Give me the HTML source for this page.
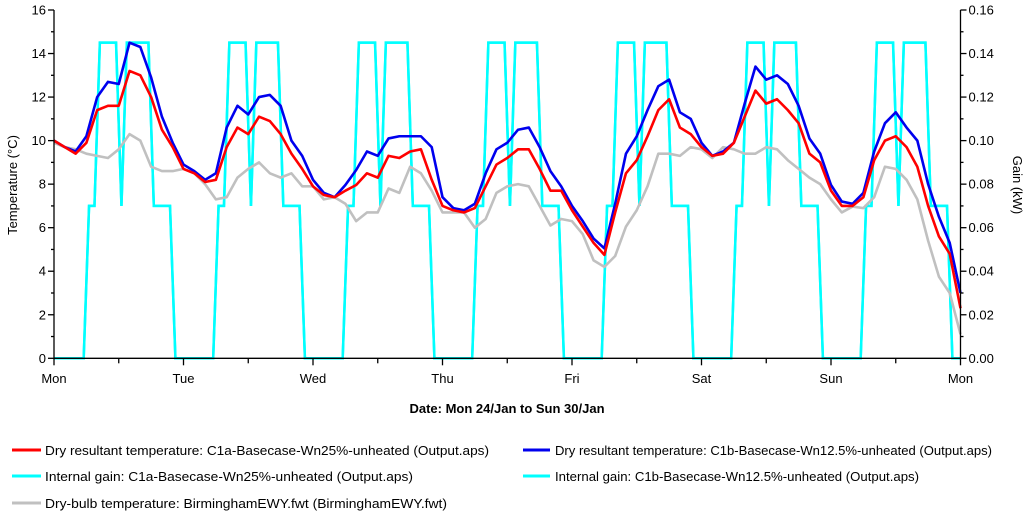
<!DOCTYPE html>
<html><head><meta charset="utf-8"><style>
html,body{margin:0;padding:0;background:#fff;}
svg{display:block;font-family:"Liberation Sans",Arial,sans-serif;}
</style></head><body>
<svg id="chart" width="1024" height="516" viewBox="0 0 1024 516" xmlns="http://www.w3.org/2000/svg">
<g id="grid"></g>
<g id="series"></g>
<g id="axes" fill="none" stroke="#000" stroke-width="1.3"></g>
<g id="labels" font-size="13" fill="#000"></g>
<text transform="translate(17,185) rotate(-90)" text-anchor="middle" font-size="13">Temperature (°C)</text>
<text transform="translate(1013,185) rotate(90)" text-anchor="middle" font-size="13">Gain (kW)</text>
<text x="507" y="413" text-anchor="middle" font-size="13" font-weight="bold">Date: Mon 24/Jan to Sun 30/Jan</text>
<g font-size="13">
 <g><line x1="12" y1="450" x2="41" y2="450" stroke="#ff0000" stroke-width="3"/><text x="45" y="455" textLength="444" lengthAdjust="spacingAndGlyphs">Dry resultant temperature: C1a-Basecase-Wn25%-unheated (Output.aps)</text></g>
 <g><line x1="12" y1="476" x2="41" y2="476" stroke="#00ffff" stroke-width="3"/><text x="45" y="481" textLength="368" lengthAdjust="spacingAndGlyphs">Internal gain: C1a-Basecase-Wn25%-unheated (Output.aps)</text></g>
 <g><line x1="12" y1="503" x2="41" y2="503" stroke="#c0c0c0" stroke-width="3"/><text x="45" y="508" textLength="402" lengthAdjust="spacingAndGlyphs">Dry-bulb temperature: BirminghamEWY.fwt (BirminghamEWY.fwt)</text></g>
 <g><line x1="523" y1="450" x2="550" y2="450" stroke="#0000ee" stroke-width="3"/><text x="555" y="455" textLength="437" lengthAdjust="spacingAndGlyphs">Dry resultant temperature: C1b-Basecase-Wn12.5%-unheated (Output.aps)</text></g>
 <g><line x1="523" y1="476" x2="550" y2="476" stroke="#00ffff" stroke-width="3"/><text x="555" y="481" textLength="364" lengthAdjust="spacingAndGlyphs">Internal gain: C1b-Basecase-Wn12.5%-unheated (Output.aps)</text></g>
</g>
</svg>
<script>
// categories / tick labels
const dayLabels = ["Mon","Tue","Wed","Thu","Fri","Sat","Sun","Mon"];
const tempTicks = [0,2,4,6,8,10,12,14,16];
const gainTicks = ["0.00","0.02","0.04","0.06","0.08","0.10","0.12","0.14","0.16"];
// temperatures sampled every 2 hours from Mon 00:00 to next Mon 00:00
const redTemp = [10.0,9.7,9.4,9.9,11.4,11.6,11.6,13.2,13.0,12.0,10.5,9.7,8.7,8.5,8.1,8.2,9.7,10.6,10.3,11.1,10.9,10.3,9.4,8.7,7.9,7.5,7.4,7.7,7.96,8.5,8.3,9.3,9.2,9.5,9.6,8.2,7.0,6.8,6.7,6.9,7.9,8.9,9.2,9.6,9.6,8.7,7.7,7.7,6.8,6.05,5.3,4.75,6.7,8.5,9.1,10.2,11.4,11.9,10.6,10.3,9.7,9.3,9.4,9.9,11.1,12.3,11.7,11.9,11.4,10.8,9.4,9.0,7.7,7.0,7.0,7.4,9.1,10.0,10.2,9.7,8.8,7.0,5.6,4.8,2.3];
const blueTemp = [10.0,9.7,9.5,10.2,12.0,12.7,12.6,14.5,14.3,12.9,11.1,9.9,8.9,8.6,8.2,8.5,10.6,11.6,11.2,12.0,12.1,11.6,10.0,9.3,8.2,7.6,7.4,7.96,8.65,9.5,9.3,10.1,10.2,10.2,10.2,9.7,7.4,6.9,6.8,7.1,8.5,9.6,9.9,10.5,10.6,9.7,8.6,7.9,7.0,6.3,5.5,5.05,7.1,9.4,10.2,11.4,12.5,12.8,11.3,11.0,9.9,9.3,9.5,9.9,11.7,13.4,12.8,13.0,12.6,11.6,10.1,9.4,7.96,7.2,7.1,7.6,9.5,10.8,11.3,10.6,10.0,8.0,6.5,5.3,3.0];
const grayTemp = [9.9,9.7,9.6,9.4,9.3,9.2,9.6,10.3,10.0,8.8,8.6,8.6,8.7,8.5,8.0,7.3,7.4,8.3,8.7,9.0,8.5,8.3,8.5,7.9,7.9,7.3,7.4,7.1,6.3,6.7,6.7,7.8,7.6,8.8,8.5,7.7,6.7,6.7,6.7,6.0,6.4,7.6,7.9,8.0,7.9,7.0,6.1,6.4,6.3,5.7,4.5,4.2,4.7,6.05,6.8,7.9,9.4,9.4,9.3,9.7,9.6,9.2,9.7,9.6,9.4,9.4,9.7,9.6,9.1,8.7,8.3,8.0,7.3,6.7,6.97,6.9,7.4,8.8,8.7,8.2,7.3,5.4,3.75,3.0,1.1];
// internal gain (kW), hourly values (hour h at h+0.5)
const gainMon = [0,0,0,0,0,0,0.07,0.07,0.145,0.145,0.145,0.145,0.07,0.145,0.145,0.145,0.145,0.145,0.07,0.07,0.07,0.07,0,0];
const gainTue = [0,0,0,0,0,0,0.07,0.07,0.145,0.145,0.145,0.145,0.07,0.145,0.145,0.145,0.145,0.145,0.07,0.07,0.07,0.07,0,0];
const gainWed = [0,0,0,0,0,0,0.07,0.07,0.145,0.145,0.145,0.145,0.07,0.145,0.145,0.145,0.145,0.145,0.07,0.07,0.07,0.07,0,0];
const gainThu = [0,0,0,0,0,0,0.07,0.07,0.145,0.145,0.145,0.145,0.07,0.145,0.145,0.145,0.145,0.145,0.07,0.07,0.07,0.07,0,0];
const gainFri = [0,0,0,0,0,0,0.07,0.07,0.145,0.145,0.145,0.145,0.07,0.145,0.145,0.145,0.145,0.145,0.07,0.07,0.07,0.07,0,0];
const gainSat = [0,0,0,0,0,0,0.07,0.07,0.145,0.145,0.145,0.145,0.07,0.145,0.145,0.145,0.145,0.145,0.07,0.07,0.07,0.07,0,0];
const gainSun = [0,0,0,0,0,0,0.07,0.07,0.145,0.145,0.145,0.145,0.07,0.145,0.145,0.145,0.145,0.145,0.07,0.07,0.07,0.07,0,0];

const X0=54, X1=960.5, Y0=358.3, Y1=10;
const xs = h => X0 + h*(X1-X0)/168;
const yT = v => Y0 - v*(Y0-Y1)/16;
const yG = v => Y0 - v*(Y0-Y1)/0.16;
const NS="http://www.w3.org/2000/svg";
function mk(tag, parent){const e=document.createElementNS(NS,tag);parent.appendChild(e);return e;}
const axes=document.getElementById('axes'), labels=document.getElementById('labels'), series=document.getElementById('series');

let ax=mk('path',axes);
ax.setAttribute('d',`M${X0},${Y1}V${Y0}H${X1}V${Y1}`);


tempTicks.forEach((t,i)=>{
  const y=yT(t);
  const tk=mk('line',axes); tk.setAttribute('x1',X0-6);tk.setAttribute('x2',X0);tk.setAttribute('y1',y);tk.setAttribute('y2',y);
  
  
  if(i<tempTicks.length-1){const m=mk('line',axes);const ym=yT(t+1);m.setAttribute('x1',X0-3);m.setAttribute('x2',X0);m.setAttribute('y1',ym);m.setAttribute('y2',ym);}
  const tx=mk('text',labels); tx.setAttribute('x',X0-8);tx.setAttribute('y',y+4.5);tx.setAttribute('text-anchor','end');tx.textContent=t;
  
  
});
gainTicks.forEach((t,i)=>{
  const y=yG(parseFloat(t));
  const tk=mk('line',axes); tk.setAttribute('x1',X1);tk.setAttribute('x2',X1+6);tk.setAttribute('y1',y);tk.setAttribute('y2',y);
  if(i<gainTicks.length-1){const m=mk('line',axes);const ym=yG(parseFloat(t)+0.01);m.setAttribute('x1',X1);m.setAttribute('x2',X1+3);m.setAttribute('y1',ym);m.setAttribute('y2',ym);}
  const tx=mk('text',labels); tx.setAttribute('x',X1+8);tx.setAttribute('y',y+4.5);tx.textContent=t;
  
  
});
dayLabels.forEach((d,i)=>{
  const x=xs(i*24);
  const tk=mk('line',axes); tk.setAttribute('x1',x);tk.setAttribute('x2',x);tk.setAttribute('y1',Y0);tk.setAttribute('y2',Y0+7);
  if(i<7){const m=mk('line',axes);const xm=xs(i*24+12);m.setAttribute('x1',xm);m.setAttribute('x2',xm);m.setAttribute('y1',Y0);m.setAttribute('y2',Y0+5);}
  const tx=mk('text',labels); tx.setAttribute('x',x);tx.setAttribute('y',383);tx.setAttribute('text-anchor','middle');tx.textContent=d;
  
  
});

const gainAll=[].concat(gainMon,gainTue,gainWed,gainThu,gainFri,gainSat,gainSun);
function gainPath(){
  let pts=[`${xs(0)},${yG(0)}`];
  gainAll.forEach((v,h)=>pts.push(`${xs(h+0.5).toFixed(2)},${yG(v).toFixed(2)}`));
  pts.push(`${xs(168)},${yG(0)}`);
  return 'M'+pts.join('L');
}
['a','b'].forEach(k=>{
  const p=mk('path',series);
  p.setAttribute('d',gainPath());p.setAttribute('fill','none');p.setAttribute('stroke','#00ffff');p.setAttribute('stroke-width','2.5');
  
  
});
function tempLine(arr,color,name){
  const p=mk('path',series);
  p.setAttribute('d','M'+arr.map((v,i)=>`${xs(i*2).toFixed(2)},${yT(v).toFixed(2)}`).join('L'));
  p.setAttribute('fill','none');p.setAttribute('stroke',color);p.setAttribute('stroke-width','2.6');p.setAttribute('stroke-linejoin','round');
  
  
}
tempLine(grayTemp,'#c0c0c0','dry-bulb-line');
tempLine(blueTemp,'#0000ee','c1b-temperature-line');
tempLine(redTemp,'#ff0000','c1a-temperature-line');
</script>
</body></html>
